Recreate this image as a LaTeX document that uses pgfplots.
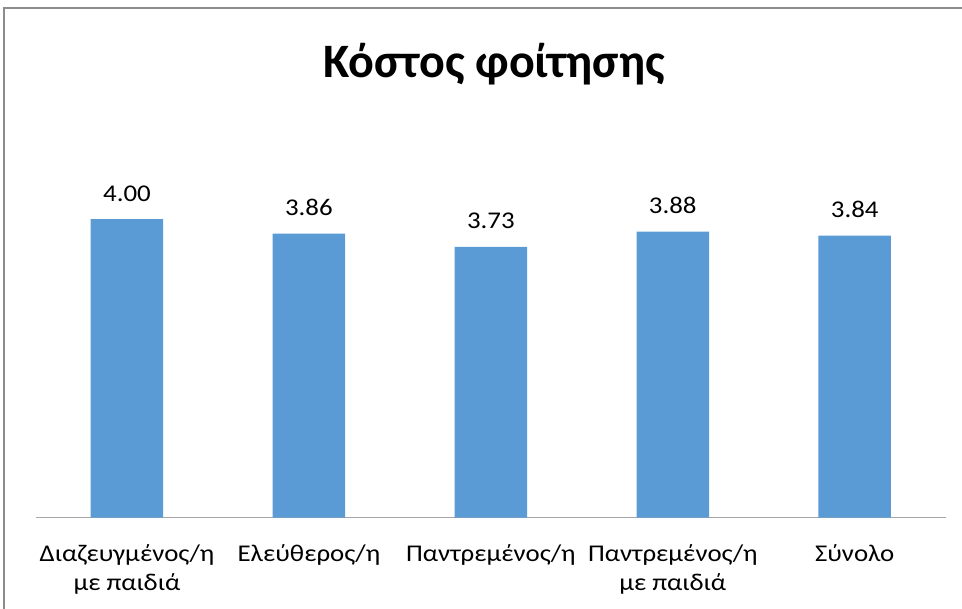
\documentclass[border=0pt]{standalone}
\usepackage{pgfplots}
\pgfplotsset{compat=1.18}
\usepackage{fontspec}
\setmainfont{Carlito}
\newfontfamily\labelfont[FakeStretch=1.12]{Carlito}
\definecolor{barblue}{HTML}{5B9BD5}
\definecolor{axgray}{HTML}{A6A6A6}
\definecolor{framegray}{HTML}{8C8C8C}
\begin{document}
\begin{tikzpicture}[x=1pt,y=1pt]
\useasboundingbox (0,0) rectangle (962,609);
\draw[color=framegray, line width=1.6pt] (4,-5) -- (4,601) -- (970,601);
\node[font=\bfseries\fontsize{48}{58}\selectfont, anchor=base, inner sep=0pt] at (494,531) {Κόστος φοίτησης};
\begin{axis}[
  at={(36pt,91.3pt)}, anchor=south west,
  scale only axis, width=909.7pt, height=401pt,
  xmin=-0.5, xmax=4.5, ymin=1.09, ymax=5,
  ybar, bar width=72.5pt,
  axis y line=none, axis x line*=bottom,
  x axis line style={color=axgray, line width=1.3pt, -},
  major tick length=0pt,
  xtick={0,1,2,3,4},
  xticklabels={{Διαζευγμένος/η\\με παιδιά},{Ελεύθερος/η},{Παντρεμένος/η},{Παντρεμένος/η\\με παιδιά},{Σύνολο}},
  xticklabel style={align=center, font=\labelfont\fontsize{24}{29}\selectfont, anchor=north, inner sep=0pt, yshift=-27pt},
  point meta=explicit symbolic,
  nodes near coords,
  nodes near coords style={font=\labelfont\fontsize{24}{29}\selectfont, inner sep=0pt, anchor=base, yshift=18pt},
]
\addplot[fill=barblue, draw=none] coordinates {
  (0,4.00) [4.00]
  (1,3.86) [3.86]
  (2,3.73) [3.73]
  (3,3.88) [3.88]
  (4,3.84) [3.84]
};
\end{axis}
\end{tikzpicture}
\end{document}
